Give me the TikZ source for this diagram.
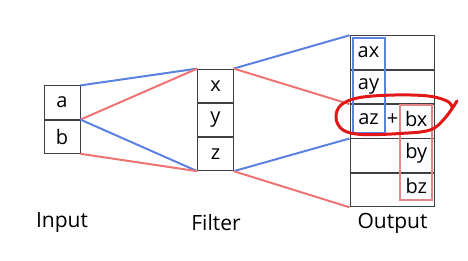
\documentclass[tikz,border=0pt]{standalone}
\usepackage{fontspec}
\setmainfont{Open Sans}
\usetikzlibrary{positioning,fit}

\definecolor{lblue}{HTML}{5B82E3}
\definecolor{lred}{HTML}{EE7474}
\definecolor{boxred}{HTML}{E58585}
\definecolor{penred}{HTML}{E01818}

\begin{document}
\begin{tikzpicture}[x=1pt,y=-1pt,node distance=0pt,
  c/.style={draw=black!75,line width=0.9pt,inner sep=0pt,minimum width=36pt,minimum height=33.3pt,font=\fontsize{20}{22}\selectfont},
  oc/.style={c,minimum width=84pt,minimum height=33.5pt},
  t/.style={inner sep=0pt,font=\fontsize{20}{22}\selectfont},
  lab/.style={font=\fontsize{21}{24}\selectfont},
  bl/.style={lblue,line width=2pt},
  rd/.style={lred,line width=2pt}]
  \useasboundingbox (0,0) rectangle (468,261);
  % input
  \node[c] (a) at (62,102.5) {a};
  \node[c,below=of a] (b) {b};
  % filter
  \node[c,minimum width=35.5pt] (x) at (215.5,85.7) {x};
  \node[c,minimum width=35.5pt,below=of x] (y) {y};
  \node[c,minimum width=35.5pt,below=of y] (z) {z};
  % output rows
  \node[oc] (o1) at (392,52.5) {};
  \node[oc,below=of o1] (o2) {};
  \node[oc,below=of o2] (o3) {};
  \node[oc,below=of o3] (o4) {};
  \node[oc,below=of o4] (o5) {};
  \node[t] (ax) at (368.5,52.5) {ax};
  \node[t] (ay) at (368.5,86) {ay};
  \node[t] (az) at (368.5,119.5) {az};
  \node[t] (plus) at (392.5,119.5) {+};
  \node[t] (bx) at (416.3,119.5) {bx};
  \node[t] (by) at (416.3,153) {by};
  \node[t] (bz) at (416.3,186.5) {bz};
  \node[draw=lblue,line width=2pt,inner sep=0pt,fit={(352.7,38.3) (384.7,132.7)}] (bbox) {};
  \node[draw=boxred,line width=2pt,inner sep=0pt,fit={(400,105) (432.3,200)}] (rbox) {};
  % connectors
  \draw[bl] (a.north east) -- (x.north west);
  \draw[rd] (b.north east) -- (x.north west);
  \draw[bl] (b.north east) -- (z.south west);
  \draw[rd] (b.south east) -- (z.south west);
  \draw[bl] (x.north east) -- (o1.north west);
  \draw[rd] (x.north east) -- (o3.north west);
  \draw[bl] (z.south east) -- (o4.north west);
  \draw[rd] (z.south east) -- (o5.south west);
  % labels
  \node[lab] (inp) at (62,223) {Input};
  \node[lab] (fil) at (216,223) {Filter};
  \node[lab] (out) at (392.5,223) {Output};
  % hand-drawn mark
  \draw[penred,line width=3pt,line cap=round,line join=round] plot[smooth,tension=0.6] coordinates {
    (457,101) (445,118) (430,130) (400,133.5) (362,134.5) (343,130) (336,118)
    (341,105) (360,97.5) (395,95) (428,96) (447,101) (452,107)};
\end{tikzpicture}
\end{document}
